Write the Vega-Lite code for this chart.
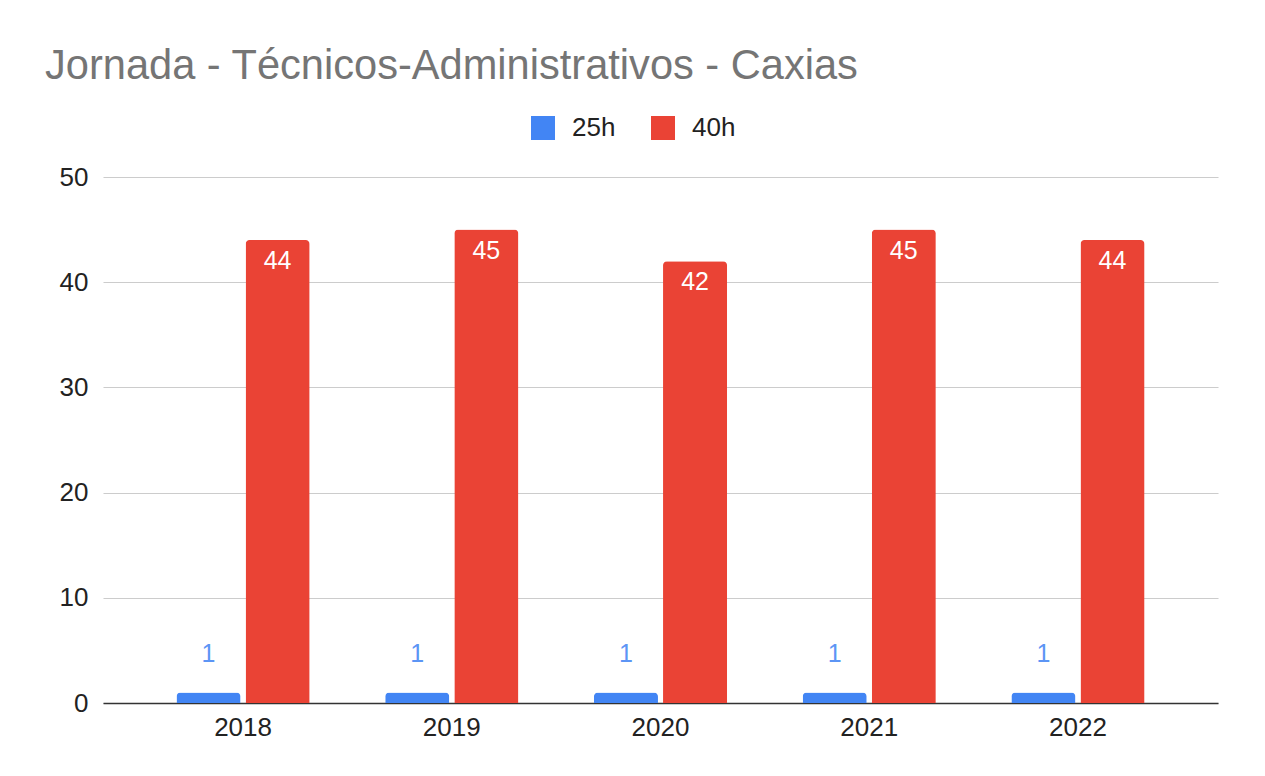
{
  "$schema": "https://vega.github.io/schema/vega-lite/v6.json",
  "width": 1115,
  "height": 526,
  "autosize": {"type": "none"},
  "padding": {"left": 103, "top": 177, "right": 47, "bottom": 73},
  "background": "white",
  "title": {
    "text": "Jornada - Técnicos-Administrativos - Caxias",
    "anchor": "start",
    "frame": "group",
    "dx": -58,
    "offset": 27,
    "fontSize": 41.6,
    "font": "Liberation Sans",
    "fontWeight": "normal",
    "color": "#757575"
  },
  "data": {
    "values": [
      {"ano": "2018", "jornada": "25h", "valor": 1},
      {"ano": "2018", "jornada": "40h", "valor": 44},
      {"ano": "2019", "jornada": "25h", "valor": 1},
      {"ano": "2019", "jornada": "40h", "valor": 45},
      {"ano": "2020", "jornada": "25h", "valor": 1},
      {"ano": "2020", "jornada": "40h", "valor": 42},
      {"ano": "2021", "jornada": "25h", "valor": 1},
      {"ano": "2021", "jornada": "40h", "valor": 45},
      {"ano": "2022", "jornada": "25h", "valor": 1},
      {"ano": "2022", "jornada": "40h", "valor": 44}
    ]
  },
  "encoding": {
    "x": {
      "field": "ano",
      "type": "nominal",
      "title": null,
      "scale": {"paddingInner": 0.362, "paddingOuter": 0.352},
      "axis": {
        "labelAngle": 0,
        "labelFontSize": 26,
        "labelFont": "Liberation Sans",
        "labelColor": "#222222",
        "labelPadding": 11,
        "ticks": false,
        "domainColor": "#333333",
        "domainWidth": 1.5,
        "grid": false
      }
    },
    "xOffset": {"field": "jornada", "type": "nominal", "scale": {"paddingInner": 0.073}},
    "y": {
      "field": "valor",
      "type": "quantitative",
      "title": null,
      "scale": {"domain": [0, 50]},
      "axis": {
        "values": [0, 10, 20, 30, 40, 50],
        "labelFontSize": 26,
        "labelFont": "Liberation Sans",
        "labelColor": "#222222",
        "labelPadding": 15,
        "ticks": false,
        "domain": false,
        "gridColor": "#cccccc",
        "gridWidth": 1.2
      }
    }
  },
  "layer": [
    {
      "mark": {"type": "bar", "cornerRadiusTopLeft": 4, "cornerRadiusTopRight": 4},
      "encoding": {
        "color": {
          "field": "jornada",
          "type": "nominal",
          "scale": {"domain": ["25h", "40h"], "range": ["#4285F4", "#EA4335"]},
          "legend": {
            "title": null,
            "orient": "none",
            "direction": "horizontal",
            "legendX": 427,
            "legendY": -62,
            "symbolType": "square",
            "symbolSize": 576,
            "symbolStrokeWidth": 0,
            "labelFontSize": 26,
            "labelFont": "Liberation Sans",
            "labelColor": "#222222",
            "labelOffset": 16,
            "columnPadding": 34
          }
        }
      }
    },
    {
      "transform": [{"filter": "datum.jornada == '25h'"}],
      "mark": {"type": "text", "baseline": "middle", "dy": -38, "fontSize": 25, "font": "Liberation Sans", "color": "#5c95f5"},
      "encoding": {"text": {"field": "valor", "type": "quantitative"}}
    },
    {
      "transform": [{"filter": "datum.jornada == '40h'"}],
      "mark": {"type": "text", "baseline": "middle", "dy": 21, "fontSize": 25, "font": "Liberation Sans", "color": "white"},
      "encoding": {"text": {"field": "valor", "type": "quantitative"}}
    }
  ],
  "config": {"view": {"stroke": null}}
}
